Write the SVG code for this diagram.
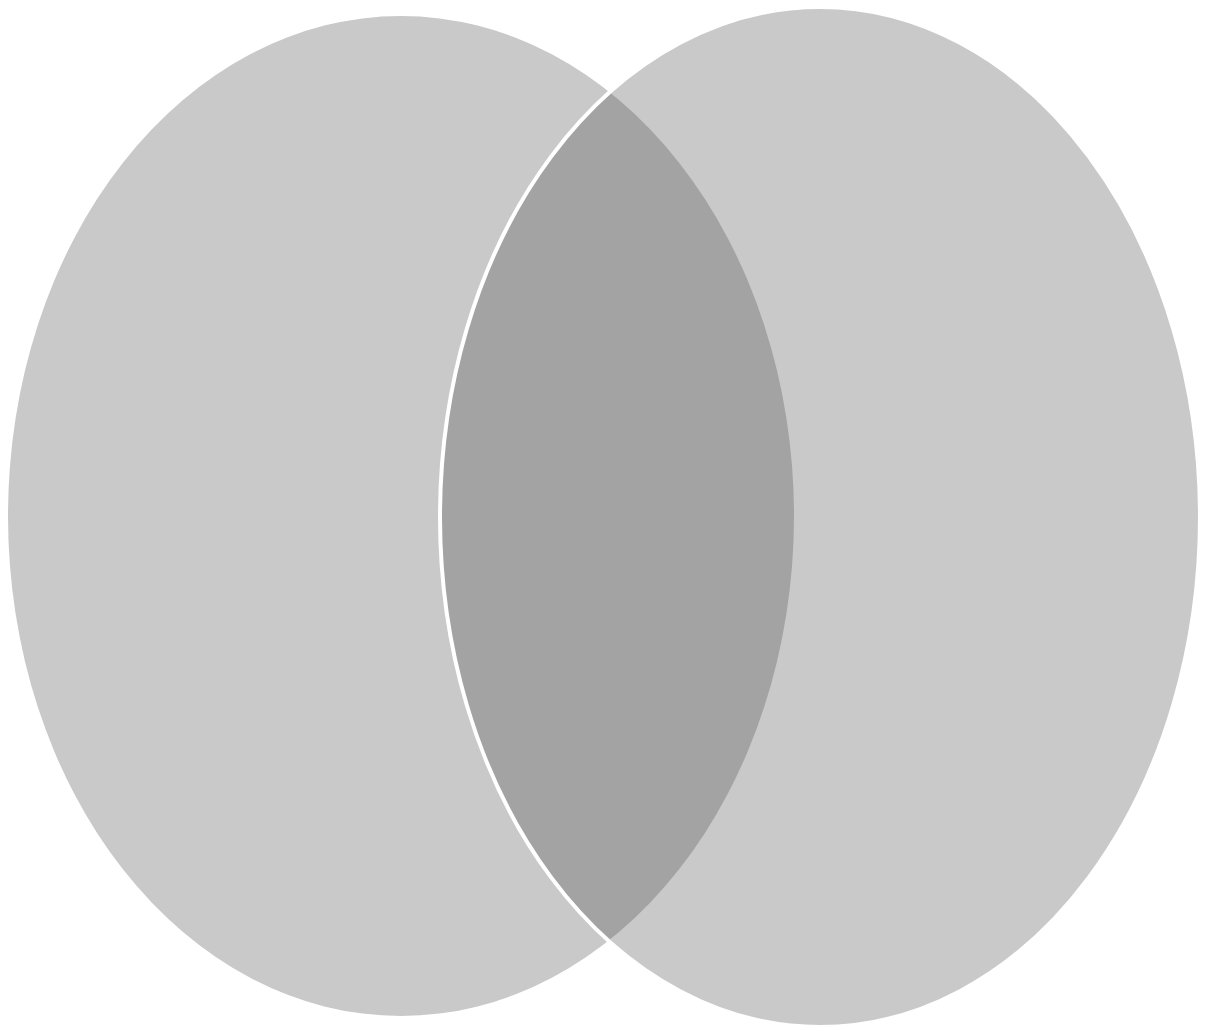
<svg xmlns="http://www.w3.org/2000/svg" width="1206" height="1031" viewBox="0 0 1206 1031">
<style>
.set{fill:#c9c9c9}
.both{fill:#a3a3a3}
.edge{fill:none;stroke:#ffffff;stroke-width:4}
</style>
<defs>
<clipPath id="clipRight"><ellipse cx="820" cy="517" rx="380" ry="510"/></clipPath>
</defs>
<rect width="1206" height="1031" fill="#ffffff"/>
<g id="setA"><ellipse class="set" cx="401" cy="516" rx="393" ry="500"/></g>
<g id="setB"><ellipse class="set" cx="820" cy="517" rx="380" ry="510"/></g>
<g id="intersection"><ellipse class="both" cx="401" cy="516" rx="393" ry="500" clip-path="url(#clipRight)"/></g>
<g id="connectors"><ellipse class="edge" cx="820" cy="517" rx="380" ry="510"/></g>
</svg>
